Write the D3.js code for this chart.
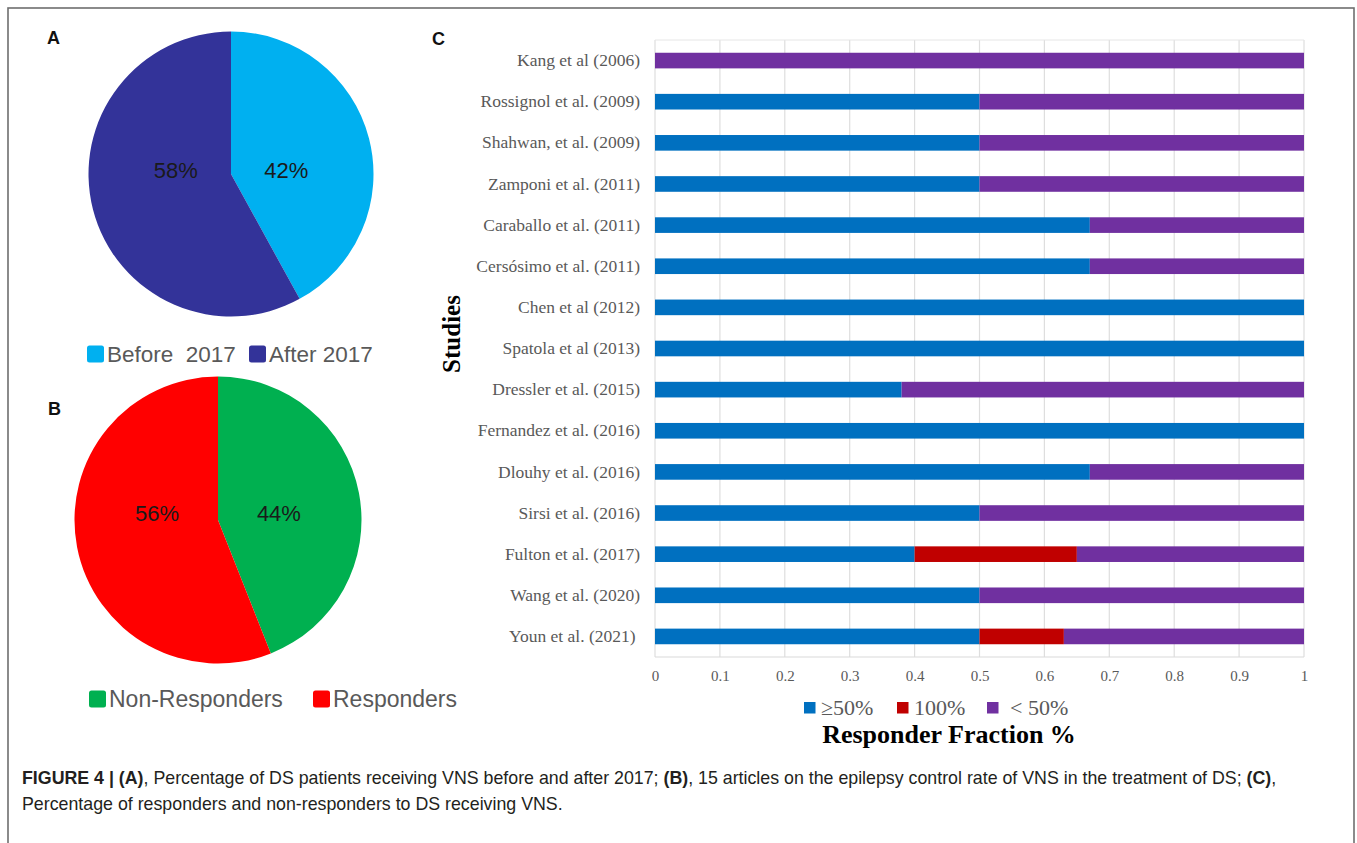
<!DOCTYPE html>
<html><head><meta charset="utf-8">
<script src="https://cdn.jsdelivr.net/npm/d3@7"></script>
<style>body{margin:0;background:#fff}svg{display:block}</style>
</head><body><svg id="c" width="1357" height="843"></svg>
<script>
// ---------- DATA ----------
const pieALabels = ["Before  2017", "After 2017"];
const pieAValues = [42, 58];
const pieBLabels = ["Non-Responders", "Responders"];
const pieBValues = [44, 56];

const studies = ["Kang et al (2006)", "Rossignol et al. (2009)", "Shahwan, et al. (2009)", "Zamponi et al. (2011)",
  "Caraballo et al. (2011)", "Cersósimo et al. (2011)", "Chen et al (2012)", "Spatola et al (2013)",
  "Dressler et al. (2015)", "Fernandez et al. (2016)", "Dlouhy et al. (2016)", "Sirsi et al. (2016)",
  "Fulton et al. (2017)", "Wang et al. (2020)", "Youn et al. (2021) "];
const seriesNames = ["≥50%", "100%", "< 50%"];
const geq50   = [0, 0.5, 0.5, 0.5, 0.67, 0.67, 1, 1, 0.38, 1, 0.67, 0.5, 0.40, 0.5, 0.50];
const full100 = [0, 0,   0,   0,   0,    0,    0, 0, 0,    0, 0,    0,   0.25, 0,   0.13];
const lt50    = [1, 0.5, 0.5, 0.5, 0.33, 0.33, 0, 0, 0.62, 0, 0.33, 0.5, 0.35, 0.5, 0.37];
const xTicks = [0, 0.1, 0.2, 0.3, 0.4, 0.5, 0.6, 0.7, 0.8, 0.9, 1];
const xTickLabels = ["0", "0.1", "0.2", "0.3", "0.4", "0.5", "0.6", "0.7", "0.8", "0.9", "1"];

// ---------- SETUP ----------
const svg = d3.select("#c");
const SANS = "'Liberation Sans', Arial, sans-serif";
const SERIF = "'Liberation Serif', 'Times New Roman', serif";

svg.append("rect").attr("x", 8).attr("y", 8).attr("width", 1346).attr("height", 850)
  .attr("fill", "#fff").attr("stroke", "#6e6e6e").attr("stroke-width", 1.6);

// panel letters
[["A", 47, 44], ["B", 48, 415], ["C", 432, 45]].forEach(([t, x, y]) => {
  svg.append("text").attr("x", x).attr("y", y).text(t)
    .attr("font-family", SANS).attr("font-weight", "bold").attr("font-size", 18).attr("fill", "#111");
});

// ---------- PIES ----------
function drawPie(cfg) {
  const data = cfg.labels.map((l, i) => ({label: l, value: cfg.values[i], color: cfg.colors[i]}));
  const pie = d3.pie().value(d => d.value).sort(null);
  const arcs = pie(data);
  const arc = d3.arc().innerRadius(0).outerRadius(cfg.r);
  const lblArc = d3.arc().innerRadius(cfg.lr).outerRadius(cfg.lr);
  const g = svg.append("g").attr("transform", `translate(${cfg.cx},${cfg.cy})`);
  g.selectAll("path").data(arcs).join("path").attr("d", arc).attr("fill", d => d.data.color);
  g.selectAll("text").data(arcs).join("text")
    .attr("x", d => lblArc.centroid(d)[0]).attr("y", cfg.ly)
    .attr("text-anchor", "middle").attr("dominant-baseline", "central")
    .attr("font-family", SANS).attr("font-size", 22).attr("fill", "#1a1a1a")
    .text(d => Math.round(d.data.value) + "%");
  // legend
  const lg = svg.append("g");
  data.forEach((d, i) => {
    const x = cfg.legX[i];
    lg.append("rect").attr("x", x).attr("y", cfg.legY - 8.5).attr("width", 17).attr("height", 17)
      .attr("rx", 2.5).attr("fill", d.color);
    lg.append("text").attr("x", x + 20).attr("y", cfg.legY).attr("dominant-baseline", "central")
      .attr("font-family", SANS).attr("font-size", cfg.legFont).attr("fill", "#595959")
      .style("white-space", "pre").text(d.label);
  });
}
drawPie({cx: 231, cy: 174, r: 142.5, lr: 57, ly: -4, labels: pieALabels, values: pieAValues,
  colors: ["#00B0F0", "#333399"], legX: [87, 249], legY: 354, legFont: 22.5});
drawPie({cx: 218, cy: 520, r: 143.5, lr: 62, ly: -7, labels: pieBLabels, values: pieBValues,
  colors: ["#00B050", "#FF0000"], legX: [89, 313], legY: 699, legFont: 23});

// ---------- BAR CHART ----------
const x = d3.scaleLinear().domain([0, 1]).range([655, 1304]);
const y = d3.scaleBand().domain(studies).range([40, 657]).paddingInner(0.62).paddingOuter(0.31);
const rows = studies.map((s, i) => ({study: s, a: geq50[i], b: full100[i], c: lt50[i]}));
const stack = d3.stack().keys(["a", "b", "c"]);
const stacked = stack(rows);
const barColors = ["#0070C0", "#C00000", "#7030A0"];

const grid = svg.append("g");
grid.selectAll("line").data(xTicks).join("line")
  .attr("x1", d => x(d)).attr("x2", d => x(d)).attr("y1", 40).attr("y2", 657)
  .attr("stroke", "#dedede").attr("stroke-width", 1.2);
grid.append("line").attr("x1", 655).attr("x2", 1304).attr("y1", 40).attr("y2", 40).attr("stroke", "#e6e6e6");
grid.append("line").attr("x1", 655).attr("x2", 1304).attr("y1", 657).attr("y2", 657).attr("stroke", "#d9d9d9").attr("stroke-width", 1.2);

svg.append("g").selectAll("g").data(stacked).join("g")
  .attr("fill", (d, i) => barColors[i])
  .selectAll("rect").data(d => d).join("rect")
  .attr("x", d => x(d[0])).attr("width", d => x(d[1]) - x(d[0]))
  .attr("y", d => y(d.data.study)).attr("height", y.bandwidth());

const xAxis = svg.append("g").attr("transform", "translate(0,657)")
  .call(d3.axisBottom(x).tickValues(xTicks).tickFormat((d, i) => xTickLabels[i]).tickSize(0).tickPadding(13));
xAxis.select(".domain").remove();
xAxis.selectAll("text").attr("font-family", SERIF).attr("font-size", 15).attr("fill", "#595959");

const yAxis = svg.append("g").attr("transform", "translate(655,0)")
  .call(d3.axisLeft(y).tickSize(0).tickPadding(15));
yAxis.select(".domain").remove();
yAxis.selectAll("text").attr("font-family", SERIF).attr("font-size", 17.5).attr("fill", "#595959")
  .style("white-space", "pre");

svg.append("text").attr("transform", "translate(460,334) rotate(-90)")
  .attr("text-anchor", "middle").attr("font-family", SERIF).attr("font-weight", "bold")
  .attr("font-size", 25).attr("fill", "#000").text("Studies");

// legend
const blX = [804, 897, 987], btX = [821, 914, 1010];
seriesNames.forEach((n, i) => {
  svg.append("rect").attr("x", blX[i]).attr("y", 702).attr("width", 11.5).attr("height", 11.5).attr("fill", barColors[i]);
  svg.append("text").attr("x", btX[i]).attr("y", 715).attr("font-family", SERIF).attr("font-size", 22)
    .attr("fill", "#595959").style("white-space", "pre").text(n);
});
svg.append("text").attr("x", 949).attr("y", 743).attr("text-anchor", "middle")
  .attr("font-family", SERIF).attr("font-weight", "bold").attr("font-size", 26).attr("fill", "#000")
  .text("Responder Fraction %");

// ---------- CAPTION ----------
const capParts = [
  [["FIGURE 4 | (A)", true], [", Percentage of DS patients receiving VNS before and after 2017; ", false], ["(B)", true],
   [", 15 articles on the epilepsy control rate of VNS in the treatment of DS; ", false], ["(C)", true], [",", false]],
  [["Percentage of responders and non-responders to DS receiving VNS.", false]]
];
capParts.forEach((line, li) => {
  const t = svg.append("text").attr("x", 22).attr("y", 784 + li * 26)
    .attr("font-family", SANS).attr("font-size", 17.8).attr("fill", "#231f20").style("white-space", "pre");
  line.forEach(([s, b]) => t.append("tspan").attr("font-weight", b ? "bold" : "normal").text(s));
});
</script></body></html>
